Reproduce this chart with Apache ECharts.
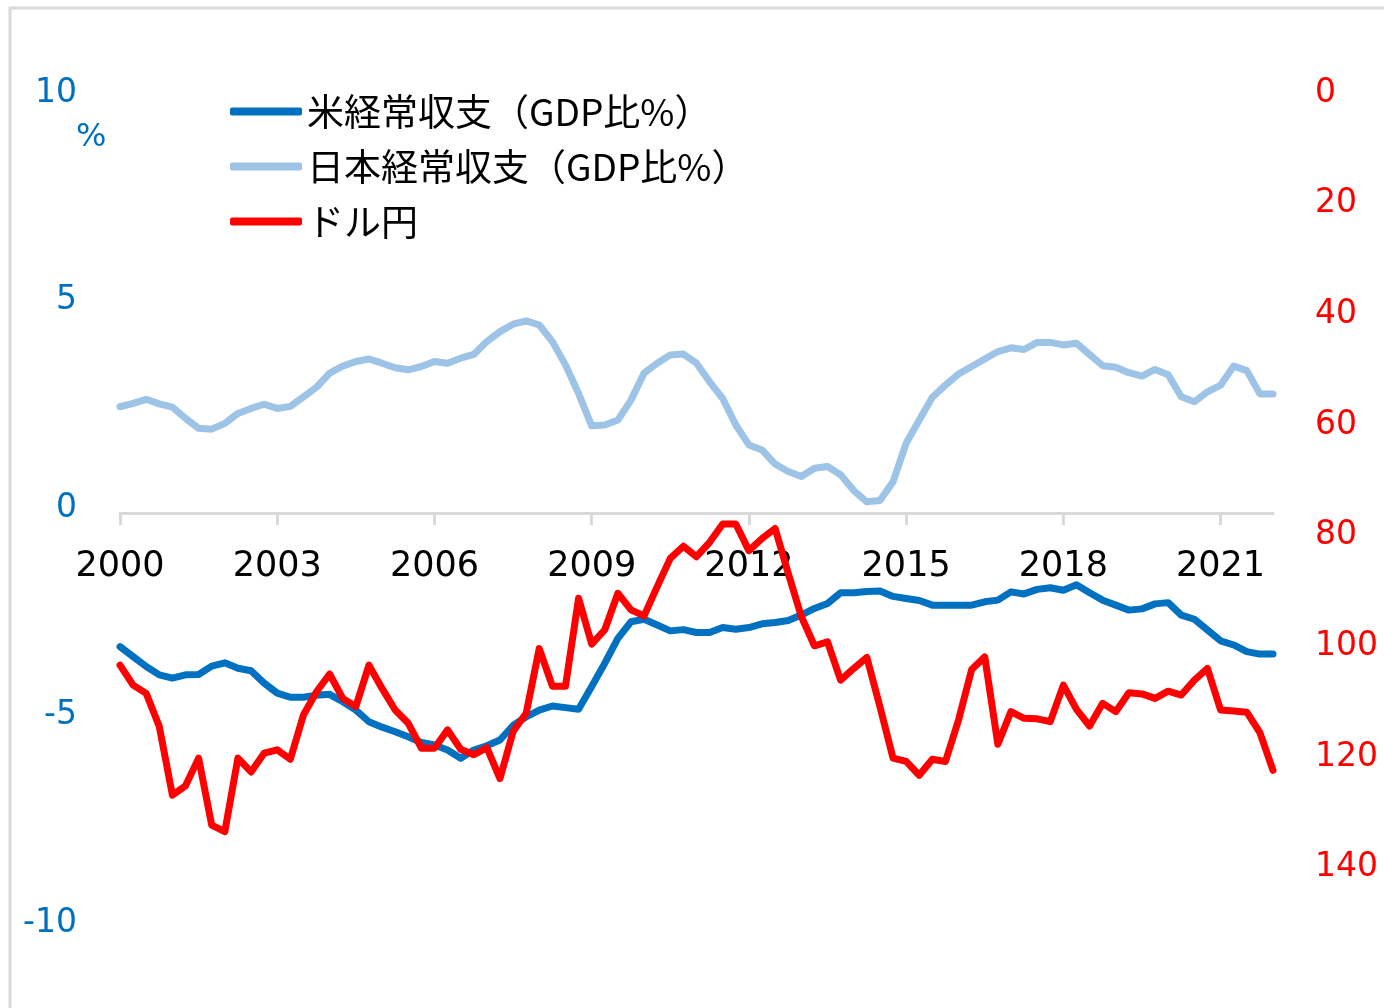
<!DOCTYPE html>
<html>
<head>
<meta charset="UTF-8">
<title>経常収支とドル円</title>
<script src="https://cdn.jsdelivr.net/npm/echarts@6/dist/echarts.min.js"></script>
<style>
body { margin: 0; padding: 0; background: #fff; }
#main { width: 1384px; height: 1008px; }
</style>
</head>
<body>
<div id="main"></div>
<script>
// 2000Q1 - 2022Q1, quarterly
var startYear = 2000;
var quarterCount = 89;
var tickYears = ['2000', '2003', '2006', '2009', '2012', '2015', '2018', '2021'];

var seriesNames = ['米経常収支（GDP比%）', '日本経常収支（GDP比%）', 'ドル円'];

// US current account, % of GDP
var usCA = [
  -3.22, -3.46, -3.70, -3.90, -3.98, -3.90, -3.89, -3.69, -3.61, -3.74,
  -3.80, -4.10, -4.34, -4.44, -4.44, -4.39, -4.37, -4.55, -4.75, -5.03,
  -5.16, -5.27, -5.39, -5.53, -5.59, -5.71, -5.91, -5.71, -5.61, -5.47,
  -5.12, -4.91, -4.75, -4.65, -4.69, -4.73, -4.18, -3.62, -3.02, -2.62,
  -2.56, -2.70, -2.84, -2.81, -2.88, -2.88, -2.76, -2.80, -2.76, -2.67,
  -2.64, -2.59, -2.46, -2.30, -2.18, -1.92, -1.92, -1.89, -1.88, -2.01,
  -2.06, -2.11, -2.22, -2.22, -2.22, -2.22, -2.14, -2.10, -1.90, -1.95,
  -1.84, -1.80, -1.86, -1.73, -1.92, -2.10, -2.22, -2.34, -2.31, -2.19,
  -2.16, -2.46, -2.56, -2.82, -3.08, -3.18, -3.34, -3.40, -3.40
];

// Japan current account, % of GDP
var jpCA = [
  2.56, 2.64, 2.74, 2.63, 2.55, 2.28, 2.04, 2.02, 2.16, 2.40,
  2.52, 2.62, 2.52, 2.57, 2.80, 3.03, 3.37, 3.54, 3.65, 3.71,
  3.61, 3.50, 3.45, 3.53, 3.65, 3.61, 3.73, 3.82, 4.13, 4.37,
  4.55, 4.63, 4.53, 4.13, 3.57, 2.88, 2.10, 2.12, 2.24, 2.72,
  3.37, 3.61, 3.81, 3.83, 3.61, 3.16, 2.76, 2.12, 1.64, 1.52,
  1.18, 1.00, 0.88, 1.08, 1.12, 0.92, 0.54, 0.27, 0.30, 0.75,
  1.68, 2.24, 2.79, 3.08, 3.35, 3.53, 3.71, 3.89, 3.98, 3.94,
  4.11, 4.11, 4.05, 4.09, 3.82, 3.55, 3.51, 3.38, 3.30, 3.46,
  3.33, 2.80, 2.68, 2.92, 3.08, 3.54, 3.43, 2.87, 2.87
];

// USD/JPY (right axis, inverted)
var usdjpy = [
  102.5, 106.1, 107.6, 113.6, 126.0, 124.3, 119.3, 131.4, 132.6, 119.3,
  121.8, 118.4, 117.8, 119.5, 111.5, 107.3, 104.1, 108.5, 110.0, 102.5,
  106.7, 110.6, 113.0, 117.5, 117.5, 114.2, 117.7, 118.7, 117.4, 123.0,
  114.5, 111.2, 99.5, 106.3, 106.3, 90.4, 98.7, 96.1, 89.5, 92.5,
  93.6, 88.3, 83.2, 81.0, 82.9, 80.3, 77.0, 77.0, 81.8, 79.6,
  77.8, 85.9, 93.7, 99.0, 98.3, 105.2, 103.1, 101.1, 110.0, 119.3,
  119.9, 122.4, 119.5, 119.9, 112.4, 103.3, 101.0, 116.8, 110.9, 112.1,
  112.2, 112.7, 106.1, 110.5, 113.5, 109.4, 110.9, 107.5, 107.7, 108.5,
  107.2, 107.9, 105.2, 103.1, 110.6, 110.8, 111.0, 114.7, 121.5
];

var categories = [];
for (var i = 0; i < quarterCount; i++) {
  categories.push((startYear + Math.floor(i / 4)) + 'Q' + (i % 4 + 1));
}

var BLUE = '#0070C0';
var LIGHT = '#9DC3E6';
var RED = '#FF0000';
var numFont = '"DejaVu Sans", Verdana, sans-serif';
var jpFont = '"Noto Sans CJK JP", sans-serif';

function isTick(index) {
  return tickYears.indexOf(categories[index].slice(0, 4)) >= 0 && index % 4 === 0;
}

var chart = echarts.init(document.getElementById('main'));

// grid: top 98 -> bottom 928, left 0 line sits at 513
chart.setOption({
  animation: false,
  backgroundColor: '#fff',
  grid: { left: 120, right: 111, top: 98, bottom: 80 },
  legend: {
    orient: 'vertical',
    left: 230,
    top: 93,
    padding: 0,
    itemWidth: 72,
    itemHeight: 8,
    itemGap: 18,
    icon: 'roundRect',
    textStyle: { fontSize: 37, color: '#000', fontFamily: jpFont },
    data: seriesNames
  },
  graphic: [
    {
      type: 'rect',
      silent: true,
      shape: { x: 10, y: 8, width: 1500, height: 1100 },
      style: { fill: 'none', stroke: '#d9d9d9', lineWidth: 3 }
    },
    {
      type: 'text',
      left: 76,
      top: 122,
      style: { text: '%', fill: BLUE, fontSize: 32, fontFamily: numFont }
    }
  ],
  xAxis: {
    type: 'category',
    data: categories,
    boundaryGap: false,
    offset: -415,
    axisLine: { onZero: false, lineStyle: { color: '#d9d9d9', width: 3 } },
    axisTick: { interval: function (idx) { return isTick(idx); }, length: 12, lineStyle: { color: '#d9d9d9', width: 3 } },
    axisLabel: {
      interval: function (idx) { return isTick(idx); },
      formatter: function (v) { return v.slice(0, 4); },
      fontSize: 35, color: '#000', fontFamily: numFont, margin: 36
    },
    splitLine: { show: false }
  },
  yAxis: [
    {
      type: 'value',
      min: -10, max: 10, interval: 5,
      axisLine: { show: false },
      axisTick: { show: false },
      splitLine: { show: false },
      axisLabel: { fontSize: 33, color: BLUE, fontFamily: numFont, margin: 43, verticalAlign: 'bottom', lineHeight: 10 }
    },
    {
      type: 'value',
      inverse: true,
      min: 0, max: 150, interval: 20,
      position: 'right',
      axisLine: { show: false },
      axisTick: { show: false },
      splitLine: { show: false },
      axisLabel: { showMaxLabel: false, fontSize: 33, color: RED, fontFamily: numFont, margin: 42, verticalAlign: 'bottom', lineHeight: 10 }
    }
  ],
  series: [
    {
      name: seriesNames[0], type: 'line', yAxisIndex: 0, data: usCA,
      showSymbol: false, symbol: 'none', color: BLUE,
      lineStyle: { width: 7, color: BLUE, join: 'round', cap: 'round' }
    },
    {
      name: seriesNames[1], type: 'line', yAxisIndex: 0, data: jpCA,
      showSymbol: false, symbol: 'none', color: LIGHT,
      lineStyle: { width: 7, color: LIGHT, join: 'round', cap: 'round' }
    },
    {
      name: seriesNames[2], type: 'line', yAxisIndex: 1, data: usdjpy,
      showSymbol: false, symbol: 'none', color: RED,
      lineStyle: { width: 7, color: RED, join: 'round', cap: 'round' }
    }
  ]
});
</script>
</body>
</html>
